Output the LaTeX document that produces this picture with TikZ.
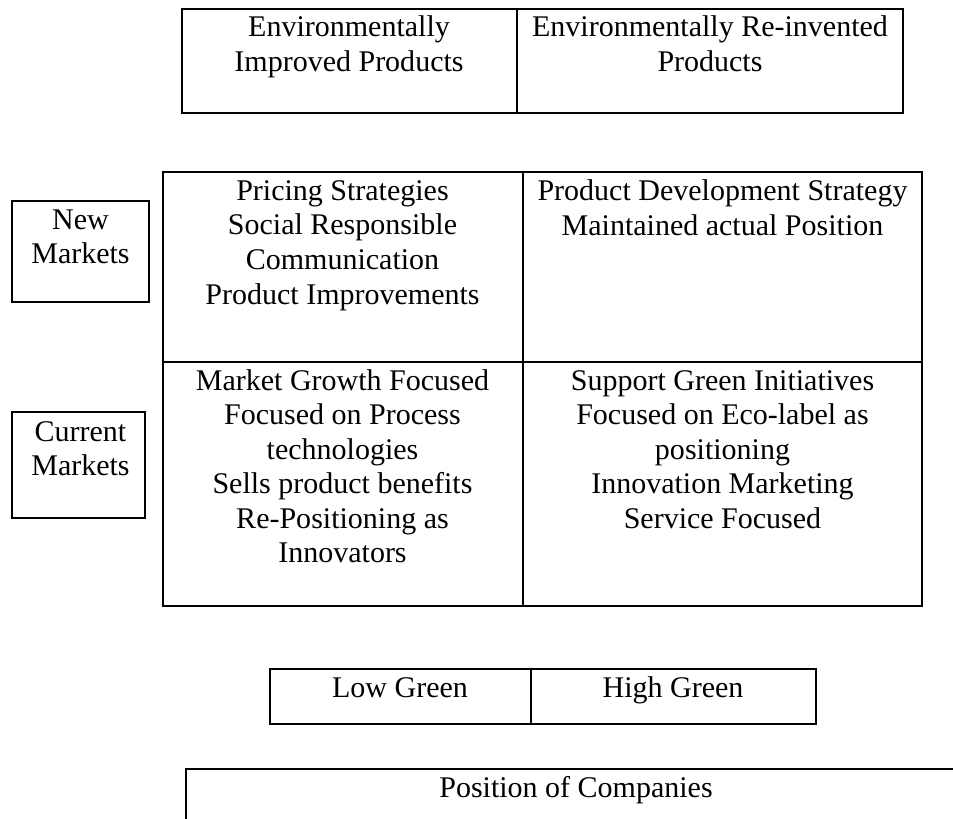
\documentclass[tikz,border=0pt]{standalone}
\usepackage{fontspec}
\setmainfont{Liberation Serif}
\begin{document}
\begin{tikzpicture}[x=0.4pt, y=-0.4pt]
  \tikzstyle{celltext}=[align=center, anchor=base, inner sep=0pt,
    font=\fontsize{12}{13.8}\selectfont]
  \tikzstyle{frame}=[line width=0.8pt]
  \useasboundingbox (0, 0) rectangle (953, 819);
  % product types (base = last line)
  \draw[frame] (181.5, 9) rectangle (903, 113);
  \draw[frame] (517, 9) -- (517, 113);
  \node[celltext] (improved) at (349, 71.5) {Environmentally\\Improved Products};
  \node[celltext] (reinvented) at (710, 71.5) {Environmentally Re-invented\\Products};
  % markets
  \draw[frame] (11.5, 200.5) rectangle (149, 301.5);
  \node[celltext] (new) at (80.5, 263.5) {New\\Markets};
  \draw[frame] (11.5, 411.5) rectangle (145, 517.5);
  \node[celltext] (current) at (80.5, 475.5) {Current\\Markets};
  % strategy matrix
  \draw[frame] (162.5, 172) rectangle (922, 605.5);
  \draw[frame] (522.5, 172) -- (522.5, 605.5);
  \draw[frame] (162.5, 361.5) -- (922, 361.5);
  \node[celltext] (new-low) at (342.5, 304) {Pricing Strategies\\Social Responsible\\Communication\\Product Improvements};
  \node[celltext] (new-high) at (722.5, 235) {Product Development Strategy\\Maintained actual Position};
  \node[celltext] (cur-low) at (342.5, 562.5) {Market Growth Focused\\Focused on Process\\technologies\\Sells product benefits\\Re-Positioning as\\Innovators};
  \node[celltext] (cur-high) at (722.5, 528) {Support Green Initiatives\\Focused on Eco-label as\\positioning\\Innovation Marketing\\Service Focused};
  % green level
  \draw[frame] (269.5, 669) rectangle (816, 724);
  \draw[frame] (530.5, 669) -- (530.5, 724);
  \node[celltext] (low) at (400, 697.5) {Low Green};
  \node[celltext] (high) at (673, 697.5) {High Green};
  % position
  \draw[frame] (953, 769) -- (186, 769) -- (186, 819);
  \node[celltext] (position) at (576, 797) {Position of Companies};
\end{tikzpicture}
\end{document}
